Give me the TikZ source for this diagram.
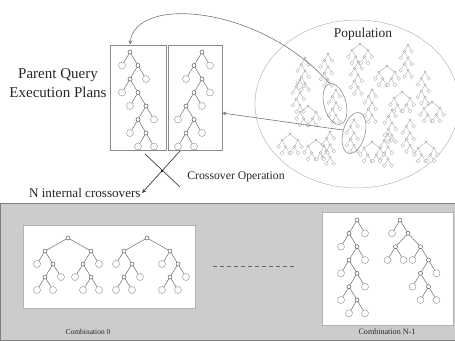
\documentclass[tikz,border=0pt]{standalone}
\usepackage{fontspec}
\setmainfont{Liberation Serif}
\usetikzlibrary{arrows.meta,positioning,shapes.geometric,fit}

\tikzset{
  jn/.style={circle, draw=black!70, fill=white, inner sep=0pt, minimum size=0.12cm, line width=0.4pt},
  lf/.style={circle, draw=black!45, fill=white, inner sep=0pt, minimum size=0.21cm, line width=0.35pt},
  ptree/.style={level distance=0.405cm, sibling distance=0.48cm,
    edge from parent/.style={draw=black!60, line width=0.4pt}},
  pj/.style={circle, draw=black!40, fill=white, inner sep=0pt, minimum size=0.07cm, line width=0.3pt},
  pl/.style={circle, draw=black!30, fill=white, inner sep=0pt, minimum size=0.11cm, line width=0.3pt},
  poptree/.style={level distance=0.19cm, sibling distance=0.22cm,
    edge from parent/.style={draw=black!35, line width=0.3pt}},
  panel/.style={draw=black!45, inner sep=0pt, line width=0.5pt},
  wbox/.style={draw=black!30, fill=white, inner sep=0pt, line width=0.4pt},
  lbl/.style={text=black!85, inner sep=1pt},
  % small population trees
  chainpic/.pic={
    \node[pj] (-r) {} [poptree]
      child {node[pj] {}
        child {node[pl] {}}
        child {node[pj] {}
          child {node[pj] {}
            child {node[pl] {}}
            child {node[pj] {}
              child {node[pl] {}}
              child {node[pl] {}}}}
          child {node[pl] {}}}}
      child {node[pl] {}};
  },
  bushpic/.pic={
    \node[pj] (-r) {} [poptree, sibling distance=0.48cm]
      child {node[pj] {} [sibling distance=0.22cm]
        child {node[pl] {}}
        child {node[pj] {}
          child {node[pl] {}}
          child {node[pl] {}}}}
      child {node[pj] {} [sibling distance=0.22cm]
        child {node[pj] {}
          child {node[pl] {}}
          child {node[pl] {}}}
        child {node[pl] {}}};
  }
}

\begin{document}
\begin{tikzpicture}[x=0.03cm, y=-0.03cm, >=stealth]
\useasboundingbox (0,0) rectangle (455,340);

% bottom band with the combinations
\node[fill=black!20, draw=black!50, inner sep=0pt, fit={(0,203) (455,340)}] (band) {};
\node[wbox, fit={(23,225) (195,308)}] (box0) {};
\node[wbox, fit={(322,212) (453,325)}] (boxn) {};
\coordinate (dl) at (213,266);
\coordinate (dr) at (295,266);
\draw[dashed, black!60] (dl) -- (dr);
\node[lbl, font=\fontsize{6.4}{8}\selectfont] (comb0) at (88,332) {Combination 0};
\node[lbl, font=\fontsize{6.9}{8}\selectfont] (combn) at (387,332) {Combination N-1};

% parent plans
\node[panel, fit={(110,45) (166,150)}] (lpan) {};
\node[panel, fit={(168,45) (222,150)}] (rpan) {};
\node[lbl, align=center, font=\fontsize{12.8}{16}\selectfont] (parent) at (58,83)
  {Parent Query\\Execution Plans};

\node[jn] (pa) at (130,52) {} [ptree]
  child {node[lf] {}}
  child {node[jn] {}
    child {node[jn] {}
      child {node[lf] {}}
      child {node[jn] {}
        child {node[lf] {}}
        child {node[jn] {}
          child {node[jn] {}
            child {node[lf] {}}
            child {node[jn] {}
              child {node[lf] {}}
              child {node[lf] {}}}}
          child {node[lf] {}}}}}
    child {node[lf] {}}};

\node[jn] (pb) at (202,52) {} [ptree]
  child {node[jn] {}
    child {node[lf] {}}
    child {node[jn] {}
      child {node[jn] {}
        child {node[jn] {}
          child {node[lf] {}}
          child {node[jn] {}
            child {node[jn] {}
              child {node[lf] {}}
              child {node[lf] {}}}
            child {node[lf] {}}}}
        child {node[lf] {}}}
      child {node[lf] {}}}}
  child {node[lf] {}};

% combination 0
\node[jn] (ca) at (68,238) {} [ptree, level distance=0.39cm, sibling distance=1.38cm]
  child {node[jn] {} [sibling distance=0.48cm]
    child {node[lf] {}}
    child {node[jn] {}
      child {node[jn] {}
        child {node[lf] {}}
        child {node[lf] {}}}
      child {node[lf] {}}}}
  child {node[jn] {} [sibling distance=0.48cm]
    child {node[jn] {}
      child {node[lf] {}}
      child {node[jn] {}
        child {node[lf] {}}
        child {node[lf] {}}}}
    child {node[lf] {}}};

\node[jn] (cb) at (147,238) {} [ptree, level distance=0.39cm, sibling distance=1.38cm]
  child {node[jn] {} [sibling distance=0.48cm]
    child {node[lf] {}}
    child {node[jn] {}
      child {node[jn] {}
        child {node[lf] {}}
        child {node[lf] {}}}
      child {node[lf] {}}}}
  child {node[jn] {} [sibling distance=0.48cm]
    child {node[lf] {}}
    child {node[jn] {}
      child {node[jn] {}
        child {node[lf] {}}
        child {node[lf] {}}}
      child {node[lf] {}}}};

% combination N-1
\node[jn] (cc) at (357,220) {} [ptree, level distance=0.4cm]
  child {node[jn] {}
    child {node[lf] {}}
    child {node[jn] {}
      child {node[jn] {}
        child {node[lf] {}}
        child {node[jn] {}
          child {node[jn] {}
            child {node[lf] {}}
            child {node[jn] {}
              child {node[lf] {}}
              child {node[lf] {}}}}
          child {node[lf] {}}}}
      child {node[lf] {}}}}
  child {node[lf] {}};

\node[jn] (cd) at (400,220) {} [ptree, level distance=0.4cm]
  child {node[lf] {}}
  child {node[jn] {} [sibling distance=0.75cm]
    child {node[jn] {} [sibling distance=0.48cm]
      child {node[lf] {}}
      child {node[lf] {}}}
    child {node[jn] {} [sibling distance=0.48cm]
      child {node[lf] {}}
      child {node[jn] {}
        child {node[jn] {}
          child {node[lf] {}}
          child {node[jn] {}
            child {node[lf] {}}
            child {node[lf] {}}}}
        child {node[lf] {}}}}};

% population
\node[ellipse, draw=black!30, line width=0.4pt, minimum width=6.12cm, minimum height=5.04cm] (pop) at (357,104) {};
\node[lbl, font=\fontsize{11.5}{13}\selectfont] (popl) at (363,34) {Population};

\foreach \px/\py [count=\i] in {305/58, 328/54, 358/62, 408/45, 372/90, 392/110,
    410/120, 336/90, 354/120, 330/132, 425/72, 300/80, 388/134}
  \pic (pc\i) at (\px,\py) {chainpic};
\foreach \px/\py [count=\i] in {360/44, 387/66, 402/92, 308/106, 290/134,
    316/140, 372/142, 432/102, 426/142}
  \pic (pb\i) at (\px,\py) {bushpic};

\node[ellipse, draw=black!45, line width=0.5pt, minimum width=0.66cm, minimum height=1.26cm, rotate=15] (e1) at (335,104) {};
\node[ellipse, draw=black!45, line width=0.5pt, minimum width=0.66cm, minimum height=1.26cm, rotate=-15] (e2) at (354,133) {};

\coordinate (tipa) at (130,44.5);
\draw[->, black!55, line width=0.5pt] (e1.north) .. controls (260,5) and (135,-5) .. (tipa);
\draw[->, black!55, line width=0.5pt] (e2.west) -- (rpan.east |- 0,113);

% crossover mark
\coordinate (xtl) at (145,154);
\coordinate (xbr) at (180,187);
\coordinate (xtr) at (180,151);
\coordinate (xc) at (162,171);
\draw[black!75, line width=0.6pt] (xtl) -- (xbr);
\node[lbl, anchor=west, font=\fontsize{10}{12}\selectfont] (crossop) at (186,177) {Crossover Operation};
\node[lbl, anchor=east, font=\fontsize{11.2}{13}\selectfont] (ncross) at (142,193) {N internal crossovers};
\draw[->, black!75, line width=0.6pt] (xtr) -- (ncross.east);
\fill[black] (xc) circle (1.2);
\end{tikzpicture}
\end{document}
